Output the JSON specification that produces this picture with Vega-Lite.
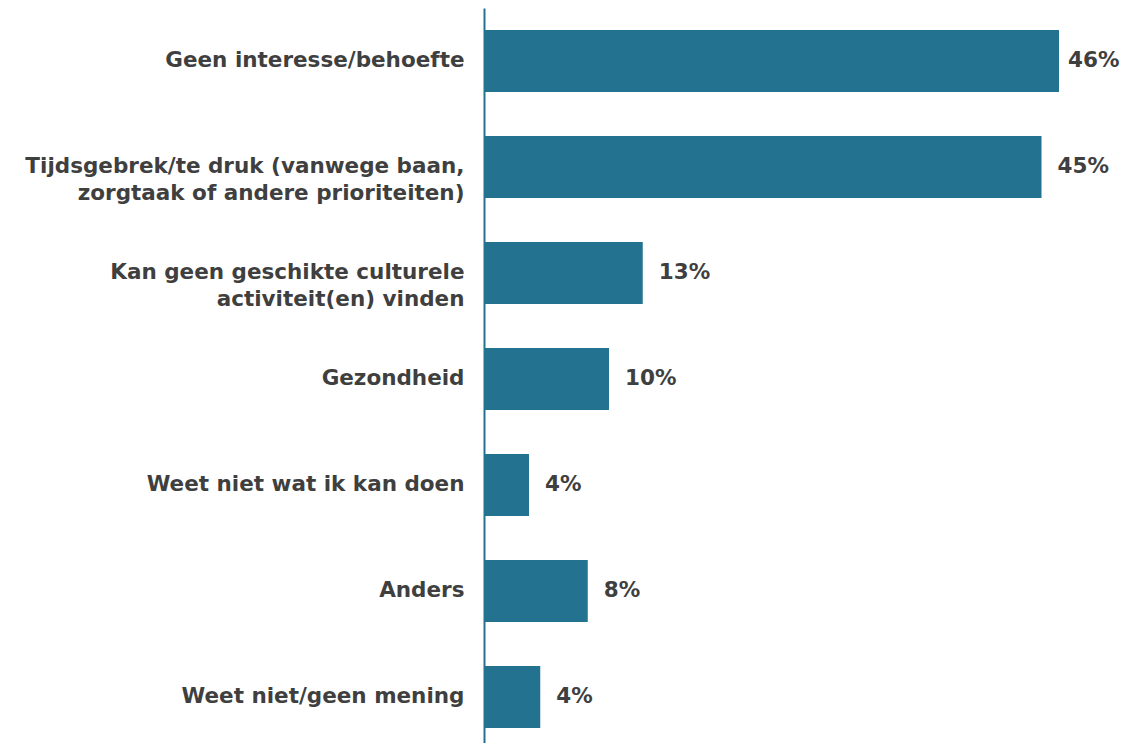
{
  "$schema": "https://vega.github.io/schema/vega-lite/v6.json",
  "autosize": "none",
  "width": 640,
  "height": 735,
  "padding": {"left": 484, "top": 8, "right": 0, "bottom": 0},
  "background": "white",
  "config": {"view": {"stroke": null}},
  "data": {
    "values": [
      {"reden": ["Geen interesse/behoefte"], "key": "a", "pct": 46.0, "label": "46%"},
      {"reden": ["Tijdsgebrek/te druk (vanwege baan,", "zorgtaak of andere prioriteiten)"], "key": "b", "pct": 44.6, "label": "45%"},
      {"reden": ["Kan geen geschikte culturele", "activiteit(en) vinden"], "key": "c", "pct": 12.7, "label": "13%"},
      {"reden": ["Gezondheid"], "key": "d", "pct": 10.0, "label": "10%"},
      {"reden": ["Weet niet wat ik kan doen"], "key": "e", "pct": 3.6, "label": "4%"},
      {"reden": ["Anders"], "key": "f", "pct": 8.3, "label": "8%"},
      {"reden": ["Weet niet/geen mening"], "key": "g", "pct": 4.5, "label": "4%"}
    ]
  },
  "encoding": {
    "y": {
      "field": "key",
      "type": "nominal",
      "sort": null,
      "scale": {"range": [0, 742], "paddingInner": 0.415, "paddingOuter": 0.2075},
      "axis": {
        "title": null,
        "ticks": false,
        "domain": true,
        "domainColor": "#23728f",
        "domainWidth": 2,
        "labelExpr": "datum.value == 'a' ? 'Geen interesse/behoefte' : datum.value == 'b' ? ['Tijdsgebrek/te druk (vanwege baan,', 'zorgtaak of andere prioriteiten)'] : datum.value == 'c' ? ['Kan geen geschikte culturele', 'activiteit(en) vinden'] : datum.value == 'd' ? 'Gezondheid' : datum.value == 'e' ? 'Weet niet wat ik kan doen' : datum.value == 'f' ? 'Anders' : 'Weet niet/geen mening'",
        "labelFont": "DejaVu Sans",
        "labelFontWeight": "bold",
        "labelFontSize": 21.5,
        "labelColor": "#3f3f3f",
        "labelPadding": 20,
        "labelLineHeight": 27,
        "labelLimit": 500,
        "grid": false
      }
    },
    "x": {
      "field": "pct",
      "type": "quantitative",
      "scale": {"domain": [0, 51.2]},
      "axis": null
    }
  },
  "layer": [
    {"mark": {"type": "bar", "color": "#23728f"}},
    {
      "transform": [{"filter": "datum.key == 'a'"}],
      "mark": {"type": "text", "align": "left", "baseline": "middle", "dx": 9, "font": "DejaVu Sans", "fontWeight": "bold", "fontSize": 21.5, "color": "#3f3f3f"},
      "encoding": {"text": {"field": "label"}}
    },
    {
      "transform": [{"filter": "datum.key != 'a'"}],
      "mark": {"type": "text", "align": "left", "baseline": "middle", "dx": 16, "font": "DejaVu Sans", "fontWeight": "bold", "fontSize": 21.5, "color": "#3f3f3f"},
      "encoding": {"text": {"field": "label"}}
    }
  ]
}
